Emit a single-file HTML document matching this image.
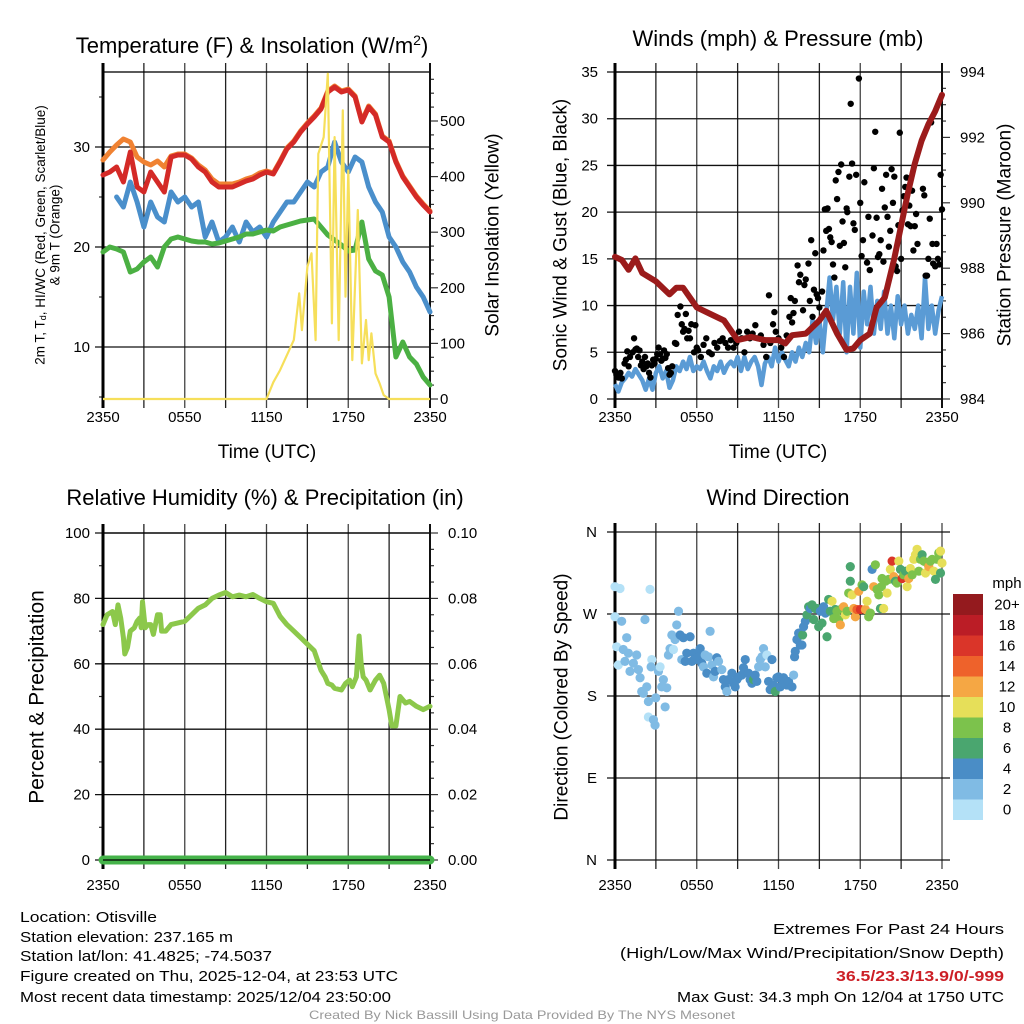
<!DOCTYPE html>
<html><head><meta charset="utf-8"><style>
html,body{margin:0;padding:0;background:#fff;}
svg{display:block;font-family:"Liberation Sans",sans-serif;}
</style></head><body>
<svg id="fig" width="1024" height="1024" viewBox="0 0 1024 1024" xmlns="http://www.w3.org/2000/svg"></svg>
<script>
// ---------- DATA ----------
const tempTimes = [0,0.5,1,1.5,2,2.5,3,3.5,4,4.5,5,5.5,6,6.5,7,7.5,8,8.5,9,9.5,10,10.5,11,11.5,12,12.5,13,13.5,14,14.5,15,15.5,16,16.5,17,17.5,18,18.5,19,19.5,20,20.5,21,21.5,22,22.5,23,23.5,24];
const tempRed = [27.2,27.5,28.0,26.5,29.5,26.0,25.5,27.5,26.5,25.5,29.0,29.2,29.2,28.8,28.0,27.5,26.5,26.0,26.0,26.0,26.3,26.6,26.8,27.2,27.5,27.3,28.5,29.8,30.5,31.5,32.3,33.0,33.8,35.5,36.0,35.5,35.7,35.0,32.5,34.0,33.2,31.0,30.5,28.5,27.0,26.0,25.0,24.2,23.5];
const tempOrange = [28.7,29.5,30.2,30.8,30.5,29.0,28.5,28.2,28.6,28.0,29.1,29.3,29.3,28.9,28.2,27.7,26.8,26.3,26.3,26.3,26.5,26.8,27.0,27.4,27.6,27.4,28.6,29.9,30.6,31.6,32.4,33.1,33.9,35.6,36.1,35.6,35.8,35.1,32.6,34.1,33.3,31.1,30.6,28.6,27.1,26.1,25.1,24.3,23.6];
const tempBlue = [null,null,25.0,24.0,26.5,24.5,22.0,24.5,23.0,22.5,25.5,24.5,25.0,24.0,24.5,21.0,22.5,20.5,21.0,22.0,20.5,22.5,21.5,22.0,21.0,22.5,23.5,24.5,24.5,25.5,26.5,26.0,27.5,28.0,30.5,28.5,27.5,29.0,28.5,26.0,24.5,23.5,21.0,20.0,18.5,17.5,16.0,15.0,13.5];
const tempGreen = [19.5,20.0,19.8,19.5,17.5,17.8,18.5,19.0,18.0,20.0,20.8,21.0,20.8,20.6,20.5,20.5,20.3,20.4,20.6,20.8,21.0,21.3,21.3,21.5,21.7,21.6,22.0,22.2,22.4,22.6,22.7,22.8,22.0,21.2,20.7,20.2,19.6,19.7,22.5,18.8,17.6,17.2,15.0,9.0,10.5,9.0,8.3,7.0,6.2];
const solarTimes = [0,12,12.5,13,14,14.4,14.6,15,15.3,15.6,15.8,16.2,16.5,16.8,17,17.3,17.6,17.8,18,18.3,18.7,19,19.3,19.5,19.7,20,20.3,20.6,21,24];
const solarValues = [0,0,30,52,106,190,124,238,262,106,441,471,585,136,471,106,519,184,411,70,340,64,142,70,118,46,28,7,0,0];
const tempTicks = [10,20,30];
const solarTicks = [0,100,200,300,400,500];
const timeLabels = ["2350","0550","1150","1750","2350"];

const windTimes = [0,0.25,0.5,0.75,1,1.25,1.5,1.75,2,2.25,2.5,2.75,3,3.25,3.5,3.75,4,4.25,4.5,4.75,5,5.25,5.5,5.75,6,6.25,6.5,6.75,7,7.25,7.5,7.75,8,8.25,8.5,8.75,9,9.25,9.5,9.75,10,10.25,10.5,10.75,11,11.25,11.5,11.75,12,12.25,12.5,12.75,13,13.25,13.5,13.75,14,14.25,14.5,14.75,15,15.25,15.5,15.75,16,16.25,16.5,16.75,17,17.25,17.5,17.75,18,18.25,18.5,18.75,19,19.25,19.5,19.75,20,20.25,20.5,20.75,21,21.25,21.5,21.75,22,22.25,22.5,22.75,23,23.25,23.5,23.75,24];
const windValues = [1.6,0.8,1.8,2.2,2.8,2.4,3.2,2.6,2.0,1.0,2.2,1.0,2.8,3.5,2.2,3.0,1.2,2.0,3.5,3.0,4.0,3.2,4.5,3.0,3.5,3.2,4.0,3.0,2.2,3.5,3.0,4.0,2.8,3.6,4.0,3.5,4.5,3.0,4.5,3.2,4.0,4.5,3.5,1.5,3.8,4.5,3.5,5.5,4.0,5.0,4.2,3.5,5.0,4.0,5.5,4.5,6.0,5.0,8.5,6.0,8.5,5.0,9.0,13.0,8.5,12.0,7.0,12.5,5.0,12.0,7.0,13.5,5.5,11.5,8.0,12.0,7.0,10.5,7.5,11.5,7.0,10.0,6.5,11.0,8.0,10.0,7.0,9.0,7.5,10.0,6.5,13.0,7.5,10.0,7.0,9.5,11.0];
const gustTimes = [0,0.1,0.25,0.4,0.5,0.7,0.8,0.9,1.0,1.1,1.3,1.4,1.5,1.6,1.7,1.8,1.9,2.0,2.1,2.2,2.3,2.4,2.5,2.6,2.7,2.8,2.9,3.0,3.1,3.2,3.3,3.4,3.5,3.6,3.7,3.8,3.9,4.0,4.1,4.2,4.4,4.5,4.6,4.8,4.9,5.0,5.1,5.2,5.3,5.4,5.5,5.6,5.8,5.9,6.0,6.1,6.3,6.5,6.7,6.9,7.1,7.3,7.5,7.7,7.9,8.1,8.3,8.5,8.7,8.9,9.1,9.3,9.5,9.7,9.9,10.1,10.3,10.5,10.7,10.9,11.1,11.3,11.4,11.6,11.7,11.8,12.0,12.2,12.4,12.6,12.8,12.9,13.0,13.1,13.2,13.4,13.5,13.6,13.8,13.9,14.0,14.2,14.3,14.4,14.5,14.6,14.7,14.8,14.9,15.0,15.2,15.3,15.4,15.5,15.6,15.7,15.8,15.9,16.0,16.1,16.2,16.3,16.4,16.5,16.6,16.7,16.8,16.9,17.0,17.05,17.2,17.3,17.4,17.5,17.6,17.7,17.9,18.0,18.1,18.2,18.3,18.5,18.6,18.7,18.9,19.0,19.1,19.2,19.3,19.4,19.5,19.6,19.7,19.8,19.9,20.0,20.1,20.2,20.3,20.4,20.5,20.6,20.7,20.8,20.9,21.0,21.1,21.2,21.3,21.4,21.5,21.6,21.7,21.8,21.9,22.0,22.1,22.2,22.6,22.7,22.8,22.9,23.0,23.1,23.2,23.3,23.35,23.5,23.6,23.7,23.8,23.9,24.0];
const gustValues = [3,2.6,2.3,2.8,2.2,3.8,4.2,5.1,3.5,4.5,5.0,6.5,5.3,5.4,4.5,5.2,3.6,4.0,3.2,4.5,3.5,3.8,2.8,2.3,3.6,4.2,3.8,4.3,4.8,5.5,4.8,4.1,4.3,5.2,4.4,4.8,3.3,2.6,2.8,3.5,6.0,5.9,9.0,9.9,8.0,7.2,7.5,9.1,6.5,7.3,6.5,8.0,5.0,7.9,5.5,5.2,4.5,5.8,6.5,5.0,4.8,6.0,5.5,6.2,6.5,6.0,5.5,6.3,5.5,6.0,7.2,6.5,5.0,7.2,6.5,7.0,7.9,6.5,6.8,5.8,4.5,11.1,6.0,8.0,9.3,7.2,6.5,5.5,4.5,6.8,8.8,10.8,8.2,9.2,10.5,14.3,12.5,13.3,9.5,12.2,12.8,14.5,10.5,17.0,8.8,11.7,15.6,11.2,10.8,9.8,11.5,15.9,20.3,18.0,20.4,18.2,17.3,16.8,14.4,13.0,23.4,21.4,24.3,16.4,25.1,19.0,16.7,14.1,20.4,20.0,23.8,31.6,25.2,18.8,18.1,24.0,34.3,21.0,15.3,17.0,23.2,14.6,19.5,13.8,17.5,24.7,28.6,19.4,15.2,15.5,17.0,22.5,14.7,20.5,24.0,19.5,16.3,18.0,24.6,21.0,23.8,14.2,13.7,18.6,28.5,15.0,20.2,21.7,22.7,23.7,18.7,20.7,18.5,22.3,15.9,18.5,19.8,16.6,22.5,21.8,13.2,13.2,15.0,19.3,29.6,16.6,14.5,14.2,16.6,15.0,14.4,24.0,20.3];
const presTimes = [0,0.5,1,1.5,2,3,4,4.5,5,6,7,8,9,10,11,12,12.5,13,14,15,15.5,16.3,17,17.5,18,18.7,19.2,19.8,20.5,21,21.5,22,22.5,23,23.5,24];
const presValues = [988.35,988.25,987.95,988.3,987.85,987.6,987.2,987.4,987.4,986.8,986.6,986.4,985.8,985.9,985.8,985.8,985.7,985.95,986.0,986.4,986.7,986.0,985.5,985.55,985.8,986.0,986.8,987.1,988.3,989.3,990.3,991.2,991.9,992.4,992.8,993.3];
const windTicks = [0,5,10,15,20,25,30,35];
const presTicks = [984,986,988,990,992,994];

const rhTimes = [0,0.3,0.7,0.9,1.1,1.3,1.5,1.6,1.8,2.0,2.3,2.5,2.7,2.8,2.9,3.1,3.3,3.5,3.7,4.0,4.2,4.3,4.6,5,6,6.5,7,7.5,8,8.5,9,9.5,10,10.5,11,11.5,12,12.5,13,13.5,14,14.5,15,15.5,16,16.3,16.5,16.8,17,17.5,17.8,18.1,18.3,18.6,18.8,18.95,19.1,19.3,19.6,20,20.3,20.6,21,21.2,21.5,21.8,22.2,22.5,23,23.5,24];
const rhValues = [72,75,76,72,78,74,68,63,65,70,71,73,74,71,79,71,72,72,69,75,75,70,70,72,73,75,77,78,80,81,81.8,80.5,81,80.5,81.2,80,79,78.5,74.5,72,70,68,66,64,58,56,54,53.5,52.5,52,54,55,53,56,68.5,60,56,55,52,55,56.5,54,46,41,41,50,48,48.5,47,46,47];
const precipTimes = [0,24];
const precipValues = [0,0];
const rhTicks = [0,20,40,60,80,100];
const precipTicks = ["0.00","0.02","0.04","0.06","0.08","0.10"];

const dirTimes = [0,0.37,0,0.49,0.12,0.24,0.61,0.86,0.98,0.73,1.1,1.35,1.59,1.72,1.84,1.96,2.08,2.2,2.33,2.45,2.45,2.7,2.65,2.57,2.82,2.94,2.99,3.19,3.31,3.43,3.55,3.68,3.8,3.92,4.04,4.17,4.29,4.41,4.53,4.66,4.78,4.9,5.02,5.15,5.27,5.51,5.64,5.76,5.88,6.13,6.25,6.37,6.49,6.62,6.74,6.86,6.98,7.11,7.23,7.35,7.47,7.6,7.84,7.96,8.09,8.21,8.33,8.58,8.7,8.82,8.94,9.07,9.31,9.43,9.56,9.8,9.92,10.05,10.17,10.29,10.41,10.54,10.66,10.78,10.9,11.03,11.15,11.27,11.39,11.52,11.64,11.76,11.88,12.0,12.13,12.25,12.37,12.5,12.62,12.74,12.99,13.11,13.18,13.23,13.35,13.48,13.6,13.72,13.77,13.84,13.97,14.09,14.21,14.33,14.46,14.58,14.7,14.82,14.95,15.07,15.19,15.31,15.44,15.56,15.68,15.8,15.93,16.05,16.17,16.29,16.42,16.54,16.66,16.78,16.91,17.03,17.15,17.27,17.27,17.4,17.52,17.64,17.76,17.89,18.01,18.13,18.25,18.38,18.5,18.62,18.74,18.87,18.99,19.11,19.23,19.36,19.48,19.55,19.6,19.72,19.85,19.97,20.09,20.21,20.34,20.46,20.58,20.7,20.83,20.95,21.07,21.19,21.32,21.44,21.56,21.68,21.81,21.93,22.05,22.17,22.3,22.42,22.54,22.66,22.79,22.91,23.03,23.15,23.28,23.4,23.52,23.64,23.76,23.89,24.0,23.89];
const dirValues = [300,298,267,262,234,214,231,244,227,218,207,216,225,209,200,185,183,264,190,174,157,220,212,297,154,148,178,207,212,190,198,168,189,225,232,247,231,242,258,273,247,220,244,218,227,245,218,227,220,223,232,216,212,225,205,223,251,214,201,207,222,218,209,198,190,185,198,205,194,190,198,201,203,211,220,205,198,194,198,203,196,212,220,223,232,212,225,196,187,220,192,185,200,201,190,198,200,196,192,196,190,203,223,229,242,249,236,236,247,256,262,269,278,276,280,264,276,276,256,273,260,278,271,245,286,273,284,265,275,273,264,258,276,278,269,273,293,322,306,291,276,267,275,295,275,302,300,275,284,267,271,319,300,324,297,291,276,300,309,276,306,293,308,319,328,311,306,304,328,319,309,313,317,300,309,320,313,330,335,341,317,330,335,328,315,326,322,328,330,317,308,330,337,315,326,339];
const dirSpeeds = [0.5,0,1,3,1,1,2,3,3,3,3,3,3,3,3,3,3,3,3,2,0,1,3,0,2,2,2,3,1,3,3,3,3,3,3,3,1,3,3,3,4,3,4,4,4,4,4,4,4,4,4,4,3,3,4,3,3,3,3,4,4,3,3,4,4,3,4,4,4,4,4,4,4,4,4,4,4,4,7,4,4,3,3,3,3,3,1,4,4,4,4,6,4,4,4,4,4,4,4,4,4,3,4,4,4,4,4,4,6,4,4,6,6,4,6,6,6,6,6,4,6,4,4,6,6,6,10,8,6,8,8,12,8,12,10,8,8,7,6,10,12,12,14,12,16,8,6,12,10,8,8,4,12,8,8,8,6,8,8,10,8,10,8,10,16,12,6,8,10,6,16,8,6,10,12,10,8,10,10,10,8,8,6,8,10,8,12,8,8,10,6,8,8,6,10,10];
const dirTickLabels = ["N","E","S","W","N"];
const speedBinLabels = ["0","2","4","6","8","10","12","14","16","18","20+"];
const speedBinColors = ["#b4e1f7","#80bbe4","#4a8dc6","#4aa66f","#7cc24c","#e6df59","#f5a744","#ee622b","#da3529","#bb1d26","#941a1e"];

// ---------- HELPERS ----------
const NS = "http://www.w3.org/2000/svg";
const svg = document.getElementById("fig");
function mk(tag, attrs, parent) {
  const e = document.createElementNS(NS, tag);
  for (const k in attrs) e.setAttribute(k, attrs[k]);
  (parent || svg).appendChild(e);
  return e;
}
function txt(s, x, y, size, anchor, parent, extra) {
  const t = mk("text", Object.assign({x: x, y: y, "font-size": size, "text-anchor": anchor || "middle", fill: "#000"}, extra || {}), parent);
  t.textContent = s;
  return t;
}
function rtxt(s, cx, cy, size, parent) {
  return txt(s, 0, 0, size, "middle", parent, {transform: "translate(" + cx + "," + cy + ") rotate(-90)", "dominant-baseline": "central"});
}

const X0 = [103, 615];
const W = 327;
function lin(d0, d1, p0, p1) { return v => p0 + (v - d0) / (d1 - d0) * (p1 - p0); }

function frame(g, x0, y0, y1) {
  for (let i = 0; i <= 8; i++) {
    const x = x0 + i * W / 8;
    const l = mk("line", {x1: x, x2: x, y1: y0 - 9, y2: y1 + 9, stroke: i % 2 ? "#222" : "#444", "stroke-width": 1.3}, g);
    
    
  }
}
function box(g, x0, y0, y1) {
  const b = mk("rect", {x: x0, y: y0, width: W, height: y1 - y0, fill: "none", stroke: "#000", "stroke-width": 1.3}, g);
  
  
  const l = mk("line", {x1: x0, x2: x0, y1: y0 - 9, y2: y1 + 9, stroke: "#000", "stroke-width": 3}, g);
  
  
  const r = mk("line", {x1: x0 + W, x2: x0 + W, y1: y0 - 9, y2: y1 + 9, stroke: "#111", "stroke-width": 2}, g);
  
  
}
function hgrid(g, x0, y, name) {
  const l = mk("line", {x1: x0 - 8, x2: x0 + W, y1: y, y2: y, stroke: "#111", "stroke-width": 1.3}, g);
  
  
}
function rtick(g, x0, y, len) {
  const l = mk("line", {x1: x0 + W, x2: x0 + W + len, y1: y, y2: y, stroke: "#333", "stroke-width": 1.2}, g);
  
  
}
function ltick(g, x0, y, len) {
  const l = mk("line", {x1: x0 - len, x2: x0, y1: y, y2: y, stroke: "#333", "stroke-width": 1.2}, g);
  
  
}
function xlabels(g, x0, y) {
  timeLabels.forEach((s, i) => {
    const t = txt(s, x0 + i * W / 4, y, 15, "middle", g);
    
    
  });
}
function pathFrom(times, vals, X, Y) {
  let d = "", pen = false;
  for (let i = 0; i < times.length; i++) {
    if (vals[i] === null) { pen = false; continue; }
    d += (pen ? "L" : "M") + X(times[i]).toFixed(1) + "," + Y(vals[i]).toFixed(1);
    pen = true;
  }
  return d;
}

// ---------- PANEL 1 ----------
(function () {
  const g = mk("g", {});
  
  
  const x0 = X0[0], y0 = 72, y1 = 399;
  const X = t => x0 + t / 24 * W;
  const Y = lin(30, 10, 147, 347);
  const YS = lin(0, 500, 399, 121);
  const title = txt("Temperature (F) & Insolation (W/m", 252, 53, 22, "middle", g);
  const sup = mk("tspan", {dy: -8, "font-size": 14}, title); sup.textContent = "2";
  const cl = mk("tspan", {dy: 8}, title); cl.textContent = ")";
  
  
  frame(g, x0, y0, y1);
  tempTicks.forEach(v => {
    hgrid(g, x0, Y(v), 'y-grid-line');
    const t = txt(String(v), 90, Y(v) + 5, 15, "end", g);
    
    
  });
  [5, 15, 25, 35].forEach(v => ltick(g, x0, Y(v), 4));
  solarTicks.forEach(v => {
    rtick(g, x0, YS(v), 8);
    const t = txt(String(v), 440, YS(v) + 5, 15, "start", g);
    
    
  });
  for (let v = 25; v < 580; v += 25) if (v % 100) rtick(g, x0, YS(v), 4);
  box(g, x0, y0, y1);
  const series = [["tempOrange", tempOrange, "#f08232"], ["tempRed", tempRed, "#d42a27"], ["tempBlue", tempBlue, "#4a8fcb"], ["tempGreen", tempGreen, "#4bb043"]];
  series.forEach(s => {
    const p = mk("path", {d: pathFrom(tempTimes, s[1], X, Y), fill: "none", stroke: s[2], "stroke-width": 5, "stroke-linejoin": "round", "stroke-linecap": "round"}, g);
    
    
  });
  const sp = mk("path", {d: pathFrom(solarTimes, solarValues, X, YS), fill: "none", stroke: "#f6df5a", "stroke-width": 2.2, "stroke-linejoin": "round"}, g);
  
  
  xlabels(g, x0, 422);
  const xt = txt("Time (UTC)", 267, 458, 19, "middle", g);
  
  
  const yt1 = mk("text", {transform: "translate(40,235) rotate(-90)", "font-size": 13.5, "text-anchor": "middle", "dominant-baseline": "central"}, g);
  yt1.innerHTML = '2m T, T<tspan font-size="9" dy="3">d</tspan><tspan dy="-3">, HI/WC (Red, Green, Scarlet/Blue)</tspan>';
  
  
  const yt2 = rtxt("& 9m T (Orange)", 55, 235, 13.5, g);
  
  
  const rt = rtxt("Solar Insolation (Yellow)", 493, 235, 19, g);
  
  
})();

// ---------- PANEL 2 ----------
(function () {
  const g = mk("g", {});
  
  
  const x0 = X0[1], y0 = 72, y1 = 399;
  const X = t => x0 + t / 24 * W;
  const Y = lin(0, 35, 399, 72);
  const YP = lin(984, 994, 399, 72);
  const title = txt("Winds (mph) & Pressure (mb)", 778, 46, 22, "middle", g);
  
  
  frame(g, x0, y0, y1);
  windTicks.forEach(v => {
    hgrid(g, x0, Y(v), 'y-grid-line');
    const t = txt(String(v), 598, Y(v) + 5, 15, "end", g);
    
    
  });
  presTicks.forEach(v => {
    rtick(g, x0, YP(v), 8);
    const t = txt(String(v), 960, YP(v) + 5, 15, "start", g);
    
    
  });
  for (let v = 984.5; v < 994; v += 0.5) if (v % 2) rtick(g, x0, YP(v), 4);
  box(g, x0, y0, y1);
  const wp = mk("path", {d: pathFrom(windTimes, windValues, X, Y), fill: "none", stroke: "#5a9bd5", "stroke-width": 4.5, "stroke-linejoin": "round"}, g);
  
  
  gustTimes.forEach((t, i) => {
    const c = mk("circle", {cx: X(t), cy: Y(gustValues[i]), r: 3.2, fill: "#000"}, g);
    
    
  });
  const pp = mk("path", {d: pathFrom(presTimes, presValues, X, YP), fill: "none", stroke: "#9b1b1b", "stroke-width": 6, "stroke-linejoin": "round", "stroke-linecap": "round"}, g);
  
  
  xlabels(g, x0, 422);
  const xt = txt("Time (UTC)", 778, 458, 19, "middle", g);
  
  
  const yt = rtxt("Sonic Wind & Gust (Blue, Black)", 561, 235, 19, g);
  
  
  const rt = rtxt("Station Pressure (Maroon)", 1005, 235, 19, g);
  
  
})();

// ---------- PANEL 3 ----------
(function () {
  const g = mk("g", {});
  
  
  const x0 = X0[0], y0 = 533, y1 = 860;
  const X = t => x0 + t / 24 * W;
  const Y = lin(0, 100, 860, 533);
  const YP = lin(0, 0.10, 860, 533);
  const title = txt("Relative Humidity (%) & Precipitation (in)", 265, 505, 22, "middle", g);
  
  
  frame(g, x0, y0, y1);
  rhTicks.forEach(v => {
    hgrid(g, x0, Y(v), 'y-grid-line');
    const t = txt(String(v), 90, Y(v) + 5, 15, "end", g);
    
    
  });
  [10, 30, 50, 70, 90].forEach(v => ltick(g, x0, Y(v), 4));
  precipTicks.forEach(s => {
    const v = parseFloat(s);
    rtick(g, x0, YP(v), 8);
    const t = txt(s, 448, YP(v) + 5, 15, "start", g);
    
    
  });
  for (let v = 0.005; v < 0.1; v += 0.005) if (Math.round(v * 1000) % 20) rtick(g, x0, YP(v), 4);
  box(g, x0, y0, y1);
  const rp = mk("path", {d: pathFrom(rhTimes, rhValues, X, Y), fill: "none", stroke: "#8cc84b", "stroke-width": 5, "stroke-linejoin": "round", "stroke-linecap": "round"}, g);
  
  
  const pp = mk("path", {d: pathFrom(precipTimes, precipValues, X, YP), fill: "none", stroke: "#45b34a", "stroke-width": 9, "stroke-linecap": "round"}, g);
  
  
  const bl = mk("line", {x1: x0, x2: x0 + W, y1: y1, y2: y1, stroke: "#000", "stroke-width": 1.3}, g);
  
  
  xlabels(g, x0, 890);
  const yt = rtxt("Percent & Precipitation", 37, 697, 21, g);
  
  
})();

// ---------- PANEL 4 ----------
(function () {
  const g = mk("g", {});
  
  
  const x0 = X0[1], y0 = 532, y1 = 860;
  const X = t => x0 + t / 24 * W;
  const Y = lin(0, 360, 860, 532);
  const title = txt("Wind Direction", 778, 505, 22, "middle", g);
  
  
  frame(g, x0, y0, y1);
  dirTickLabels.forEach((s, i) => {
    const v = i * 90;
    const l = mk("line", {x1: x0 - 8, x2: x0 + W + 8, y1: Y(v), y2: Y(v), stroke: "#111", "stroke-width": 1.3}, g);
    
    
    const t = txt(s, 597, Y(v) + 5, 15, "end", g);
    
    
  });
  const l = mk("line", {x1: x0, x2: x0, y1: y0 - 9, y2: y1 + 9, stroke: "#000", "stroke-width": 3}, g);
  
  
  dirTimes.forEach((t, i) => {
    const bin = Math.min(10, Math.floor(dirSpeeds[i] / 2));
    const c = mk("circle", {cx: X(t), cy: Y(dirValues[i]), r: 4.6, fill: speedBinColors[bin]}, g);
    
    
  });
  xlabels(g, x0, 890);
  const yt = rtxt("Direction (Colored By Speed)", 562, 697, 19, g);
  
  
  const cbTop = 594, cbH = 20.5;
  const mph = txt("mph", 1007, 588, 15, "middle", g);
  
  
  speedBinLabels.forEach((s, i) => {
    const k = 10 - i;
    const y = cbTop + k * cbH;
    const r = mk("rect", {x: 953, y: y, width: 30, height: cbH + 0.5, fill: speedBinColors[i]}, g);
    
    
    const t = txt(s, 1007, y + cbH / 2 + 5, 15, "middle", g);
    
    
  });
})();

// ---------- FOOTER ----------
(function () {
  const g = mk("g", {});
  
  
  const F = '"Liberation Sans Narrow","Liberation Sans",sans-serif';
  const left = [["Location: Otisville", 922, 137], ["Station elevation: 237.165 m", 942, 213], ["Station lat/lon: 41.4825; -74.5037", 961, 252], ["Figure created on Thu, 2025-12-04, at 23:53 UTC", 981, 378], ["Most recent data timestamp: 2025/12/04 23:50:00", 1002, 371]];
  left.forEach(a => {
    const t = txt(a[0], 20, a[1], 15, "start", g, {"font-family": F, textLength: a[2], lengthAdjust: "spacingAndGlyphs"});
    
    
  });
  const right = [["Extremes For Past 24 Hours", 934, 231, "#000", "normal"], ["(High/Low/Max Wind/Precipitation/Snow Depth)", 958, 384, "#000", "normal"], ["36.5/23.3/13.9/0/-999", 981, 168, "#cc1f26", "bold"], ["Max Gust: 34.3 mph On 12/04 at 1750 UTC", 1002, 327, "#000", "normal"]];
  right.forEach(a => {
    const t = txt(a[0], 1004, a[1], 15, "end", g, {"font-family": F, textLength: a[2], lengthAdjust: "spacingAndGlyphs", fill: a[3], "font-weight": a[4]});
    
    
  });
  const c = txt("Created By Nick Bassill Using Data Provided By The NYS Mesonet", 522, 1019, 12, "middle", g, {"font-family": F, textLength: 426, lengthAdjust: "spacingAndGlyphs", fill: "#999"});
  
  
})();
</script>
</body></html>
